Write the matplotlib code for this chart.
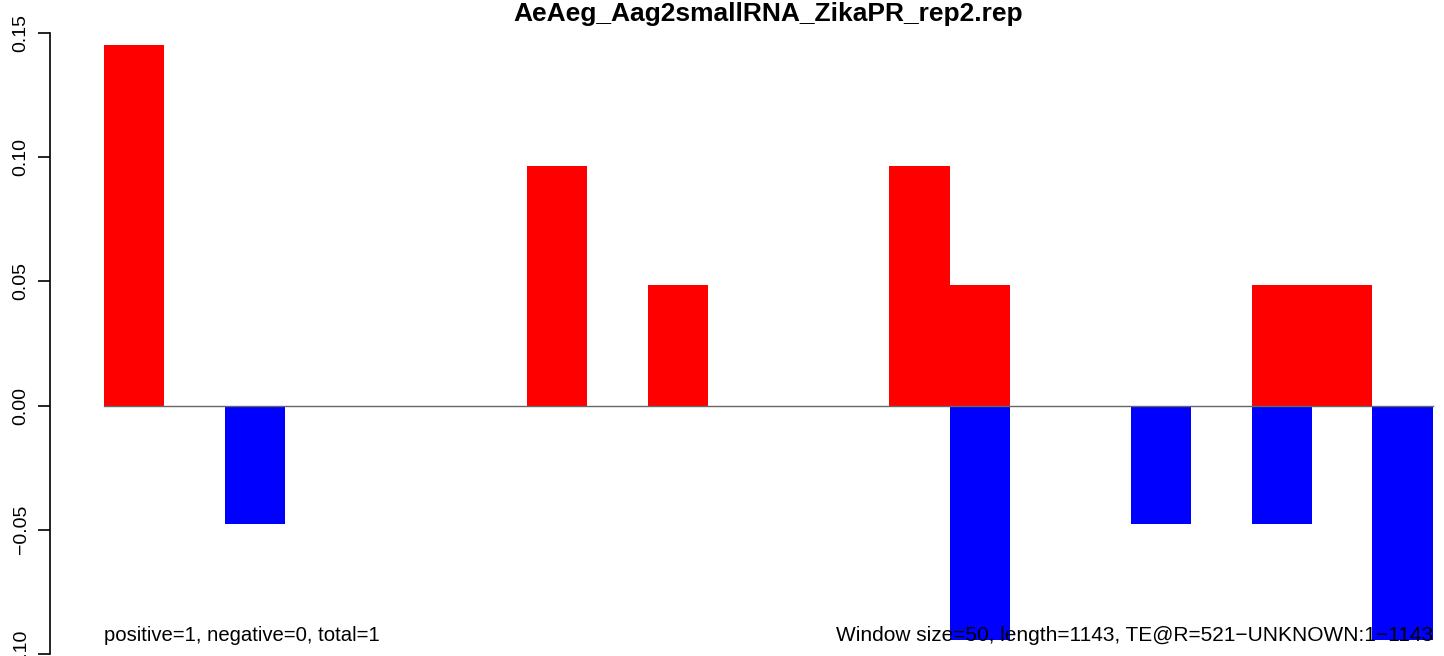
import matplotlib
matplotlib.use('Agg')
import matplotlib.pyplot as plt
import numpy as np

plt.rcParams['font.family'] = ['Liberation Sans', 'DejaVu Sans']

# window index (0..21), sense / antisense fractions
bins = np.arange(22)
sense = [0.145, 0, 0, 0, 0, 0, 0, 0.0964, 0, 0.0484, 0, 0, 0, 0.0964, 0.0484,
         0, 0, 0, 0, 0.0484, 0.0484, 0]
antisense = [0, 0, -0.0476, 0, 0, 0, 0, 0, 0, 0, 0, 0, 0, 0, -0.0944,
             0, 0, -0.0476, 0, -0.0476, 0, -0.0944]
yticks = [-0.10, -0.05, 0.00, 0.05, 0.10, 0.15]
title = 'AeAeg_Aag2smallRNA_ZikaPR_rep2.rep'
left_note = 'positive=1, negative=0, total=1'
right_note = 'Window size=50, length=1143, TE@R=521\u2212UNKNOWN:1\u22121143'

W, H = 1444, 656
fig = plt.figure(figsize=(W / 100, H / 100), dpi=100)
ax = fig.add_axes([50 / W, 2 / H, (W - 50) / W, (654 - 33) / H])

ax.bar(bins, sense, width=1, align='edge', color='#FF0000', linewidth=0)
ax.bar(bins, antisense, width=1, align='edge', color='#0000FF', linewidth=0)
ax.plot([0, len(bins)], [0, 0], color='#666666', lw=1)

ax.set_xlim(-54 / 60.4, (W - 104) / 60.4)
ax.set_ylim(-0.10, 0.15)
for s in ['top', 'right', 'bottom']:
    ax.spines[s].set_visible(False)
ax.spines['left'].set_bounds(-0.10, 0.15)
ax.spines['left'].set_linewidth(1.2)
ax.set_xticks([])
ax.set_yticks(yticks)
ax.set_yticklabels([('%.2f' % v).replace('-', '\u2212') for v in yticks],
                   rotation=90, va='center', fontsize=14)
ax.tick_params(axis='y', length=8.6, width=1.2, pad=6)

ax.text(0, -0.0927, left_note, fontsize=14.6, va='center', ha='left', zorder=5)
ax.text(len(bins), -0.0927, right_note, fontsize=15, va='center', ha='right', zorder=5)
fig.text(768 / W, 1 - 14 / H, title, fontsize=19, fontweight='bold', ha='center', va='center')

fig.savefig('out.png', dpi=100)
